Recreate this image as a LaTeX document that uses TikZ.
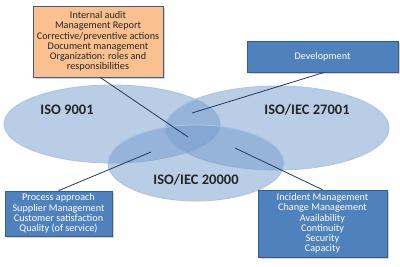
\documentclass[tikz,border=0pt]{standalone}
\usepackage{fontspec}
\setmainfont{Carlito}
\usetikzlibrary{shapes.geometric, positioning, shadows}
\definecolor{boxblue}{RGB}{79, 129, 189}
\definecolor{boxedge}{RGB}{56, 93, 138}
\definecolor{peach}{RGB}{250, 192, 144}
\definecolor{setblue}{RGB}{115, 155, 205}
\definecolor{leader}{RGB}{31, 56, 100}

\begin{document}
\begin{tikzpicture}[x=1pt, y=-1pt,
    standard/.style={ellipse, draw=setblue!60, line width=0.8pt, fill=setblue,
                     fill opacity=0.5, inner sep=0pt},
    setname/.style={font=\fontsize{14.5}{16}\selectfont\bfseries, text=black!85},
    callout/.style={draw=boxedge, line width=0.6pt, fill=#1, align=center,
                    inner sep=1pt, font=\fontsize{10.2}{10.3}\selectfont,
                    drop shadow={opacity=0.35, shadow xshift=1.5pt, shadow yshift=-1.5pt}},
    leaderline/.style={draw=leader, line width=0.8pt}
]
    \useasboundingbox (0,0) rectangle (400,266);

    % Standards
    \node[standard, minimum width=216pt, minimum height=78pt] (iso9001) at (112,124) {};
    \node[standard, minimum width=224pt, minimum height=84pt] (iso27001) at (277,128) {};
    \node[standard, minimum width=176pt, minimum height=76pt] (iso20000) at (196,163) {};

    \node[setname] (name9001) at (67,110) {ISO 9001};
    \node[setname] (name27001) at (307,110) {ISO/IEC 27001};
    \node[setname] (name20000) at (196,180) {ISO/IEC 20000};

    % Points inside the overlaps
    \coordinate (all) at (188,137);
    \coordinate (qmsism) at (192,113);
    \coordinate (qmsitsm) at (151,152);
    \coordinate (ismitsm) at (235,148);

    % Callouts
    \node[callout=peach, text=black!85, minimum width=130pt, minimum height=71pt] (common) at (98,41.5)
        {Internal audit\\Management Report\\Corrective/preventive actions\\Document management\\Organization: roles and\\responsibilities};
    \node[callout=boxblue, text=white, minimum width=151pt, minimum height=31pt] (dev) at (322.5,56.5)
        {Development};
    \node[callout=boxblue, text=white, minimum width=107pt, minimum height=45pt] (process) at (58.5,213.5)
        {Process approach\\Supplier Management\\Customer satisfaction\\Quality (of service)};
    \node[callout=boxblue, text=white, minimum width=129pt, minimum height=67pt] (service) at (322.5,223.5)
        {Incident Management\\Change Management\\Availability\\Continuity\\Security\\Capacity};

    % Leader lines
    \draw[leaderline] ([xshift=2pt]common.south) -- (all);
    \draw[leaderline] ([xshift=2pt]dev.south) -- (qmsism);
    \draw[leaderline] (process.north) -- (qmsitsm);
    \draw[leaderline] (ismitsm) -- (service.north);
\end{tikzpicture}
\end{document}
